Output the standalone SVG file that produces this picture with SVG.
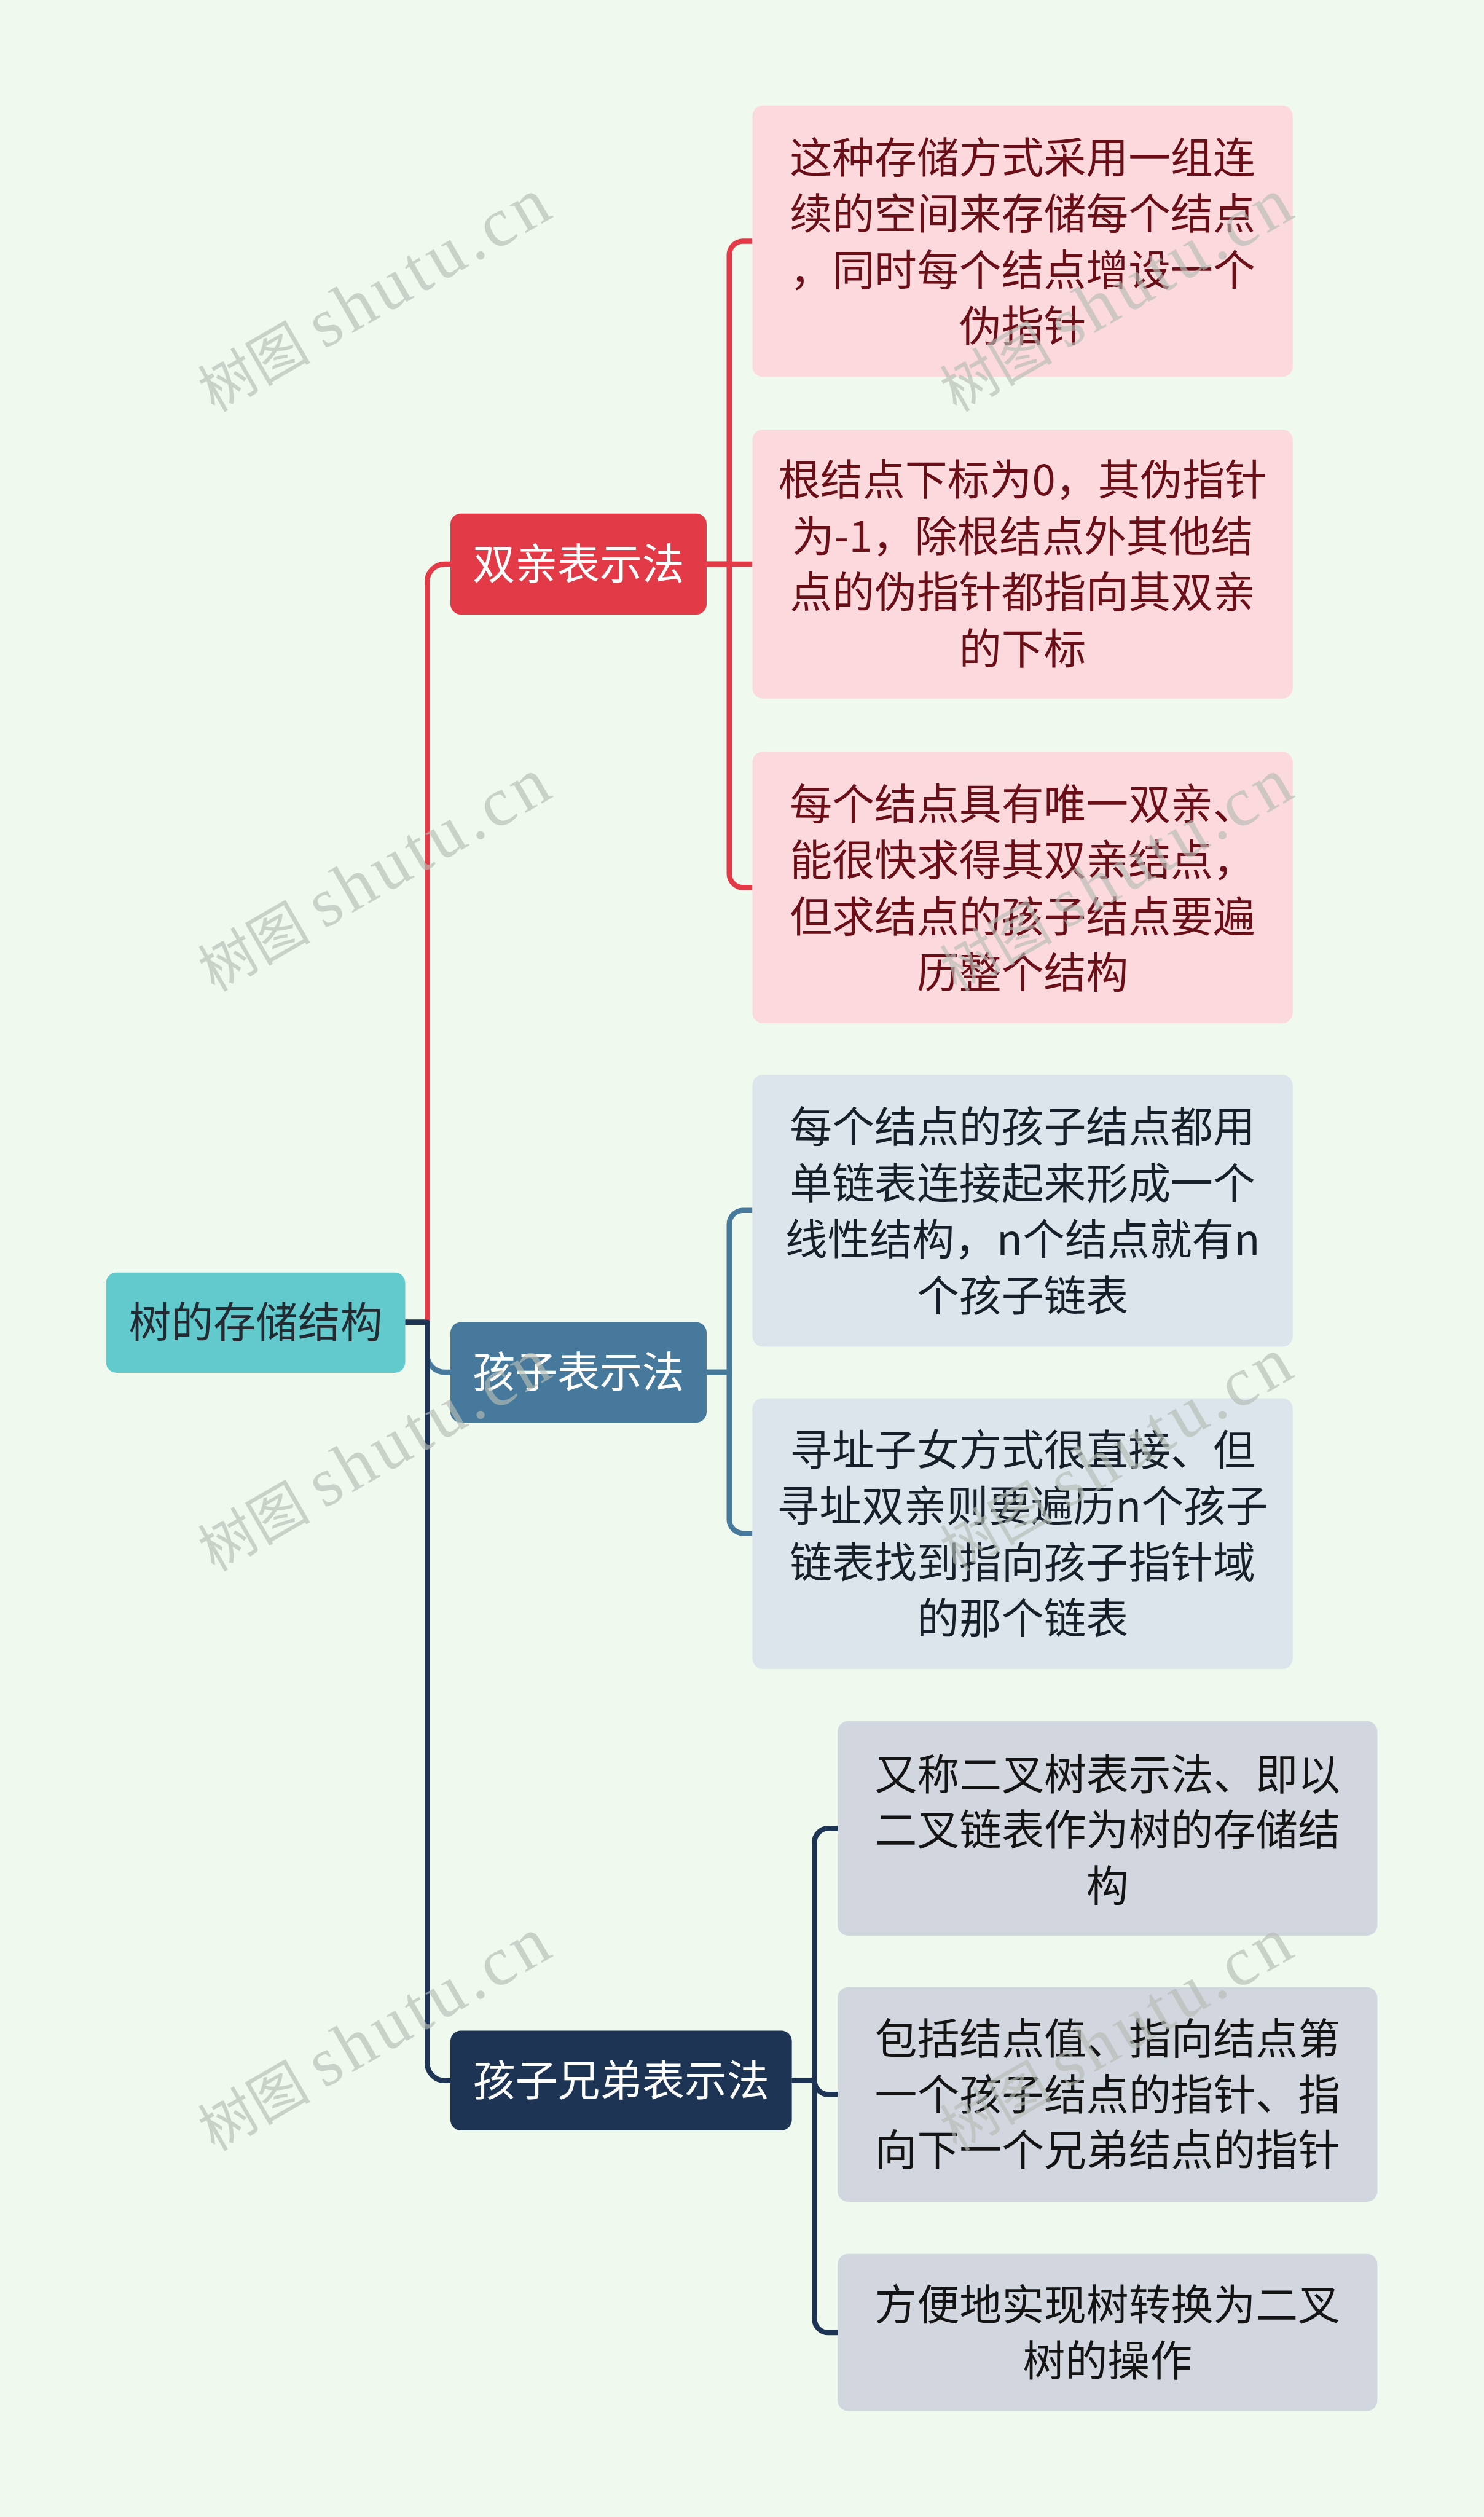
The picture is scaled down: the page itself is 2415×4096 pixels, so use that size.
<svg xmlns="http://www.w3.org/2000/svg" width="2415" height="4096" viewBox="0 0 2415 4096">
<style>
.t{font-family:'Noto Sans CJK SC','Noto Sans',sans-serif;font-size:73px;text-anchor:middle;dominant-baseline:central}
.w{fill:#ffffff}
.rt{fill:#232a31}
.pk{fill:#FBD9DD}
.pt{fill:#6A0E18}
.bl{fill:#DCE5EC}
.bt{fill:#17202A}
.gr{fill:#D2D7DF}
.gt{fill:#141414}
.c{fill:none;stroke-width:9;stroke-linecap:butt;stroke-linejoin:round}
.cr{stroke:#E23A47}
.cb{stroke:#46799B}
.cn{stroke:#1E3455}
.wm{fill:#B4BCB4;fill-opacity:0.66}
.wc{font-family:'Noto Sans CJK SC',sans-serif;font-size:97px}
.wl{font-family:'Liberation Serif',serif;font-size:120px;letter-spacing:8px}
</style>
<rect x="0" y="0" width="2415" height="4096" fill="#EFF9EE"/>
<g transform="scale(0.94336)">
<g id="connectors">
<path class="c cr" d="M699,2281 H737 V1003 A30,30 0 0 1 767,973 H777"/>
<path class="c cb" d="M699,2281 H737 V2337 A30,30 0 0 0 767,2367 H777"/>
<path class="c cn" d="M699,2281 H737 V3559 A30,30 0 0 0 767,3589 H777"/>
<path class="c cr" d="M1219,973 H1258 V440 A24,24 0 0 1 1282,416 H1298"/>
<path class="c cr" d="M1219,973 H1298"/>
<path class="c cr" d="M1219,973 H1258 V1507 A24,24 0 0 0 1282,1531 H1298"/>
<path class="c cb" d="M1219,2367 H1258 V2112 A24,24 0 0 1 1282,2088 H1298"/>
<path class="c cb" d="M1219,2367 H1258 V2621 A24,24 0 0 0 1282,2645 H1298"/>
<path class="c cn" d="M1366,3589 H1405 V3178 A24,24 0 0 1 1429,3154 H1445"/>
<path class="c cn" d="M1366,3589 H1405 A24,24 0 0 0 1429,3613 H1445"/>
<path class="c cn" d="M1366,3589 H1405 V4000 A24,24 0 0 0 1429,4024 H1445"/>
</g>
<g id="root">
<rect x="183" y="2195" width="516" height="173" rx="18" fill="#62CACC"/>
<text class="t rt" x="441" y="2276">树的存储结构</text>
</g>
<g id="b1">
<rect x="777" y="886" width="442" height="174" rx="18" fill="#E23A47"/>
<text class="t w" x="998" y="968">双亲表示法</text>
</g>
<g id="b2">
<rect x="777" y="2281" width="442" height="173" rx="18" fill="#46799B"/>
<text class="t w" x="998" y="2362">孩子表示法</text>
</g>
<g id="b3">
<rect x="777" y="3503" width="589" height="172" rx="18" fill="#1E3455"/>
<text class="t w" x="1071.5" y="3584">孩子兄弟表示法</text>
</g>
<g id="l1">
<rect class="pk" x="1298" y="182" width="932" height="468" rx="18"/>
<text class="t pt" x="1764"><tspan x="1764" y="267">这种存储方式采用一组连</tspan><tspan x="1764" y="364">续的空间来存储每个结点</tspan><tspan x="1764" y="461">，同时每个结点增设一个</tspan><tspan x="1764" y="558">伪指针</tspan></text>
</g>
<g id="l2">
<rect class="pk" x="1298" y="741" width="932" height="464" rx="18"/>
<text class="t pt" x="1764"><tspan x="1764" y="823">根结点下标为0，其伪指针</tspan><tspan x="1764" y="920">为-1，除根结点外其他结</tspan><tspan x="1764" y="1017">点的伪指针都指向其双亲</tspan><tspan x="1764" y="1114">的下标</tspan></text>
</g>
<g id="l3">
<rect class="pk" x="1298" y="1297" width="932" height="468" rx="18"/>
<text class="t pt" x="1764"><tspan x="1764" y="1382">每个结点具有唯一双亲、</tspan><tspan x="1764" y="1479">能很快求得其双亲结点，</tspan><tspan x="1764" y="1576">但求结点的孩子结点要遍</tspan><tspan x="1764" y="1673">历整个结构</tspan></text>
</g>
<g id="l4">
<rect class="bl" x="1298" y="1854" width="932" height="469" rx="18"/>
<text class="t bt" x="1764"><tspan x="1764" y="1939">每个结点的孩子结点都用</tspan><tspan x="1764" y="2036">单链表连接起来形成一个</tspan><tspan x="1764" y="2133">线性结构，n个结点就有n</tspan><tspan x="1764" y="2230">个孩子链表</tspan></text>
</g>
<g id="l5">
<rect class="bl" x="1298" y="2412" width="932" height="467" rx="18"/>
<text class="t bt" x="1764"><tspan x="1764" y="2496">寻址子女方式很直接、但</tspan><tspan x="1764" y="2593">寻址双亲则要遍历n个孩子</tspan><tspan x="1764" y="2690">链表找到指向孩子指针域</tspan><tspan x="1764" y="2787">的那个链表</tspan></text>
</g>
<g id="l6">
<rect class="gr" x="1445" y="2969" width="931" height="370" rx="18"/>
<text class="t gt" x="1910.5"><tspan x="1910.5" y="3056">又称二叉树表示法、即以</tspan><tspan x="1910.5" y="3152">二叉链表作为树的存储结</tspan><tspan x="1910.5" y="3248">构</tspan></text>
</g>
<g id="l7">
<rect class="gr" x="1445" y="3428" width="931" height="370" rx="18"/>
<text class="t gt" x="1910.5"><tspan x="1910.5" y="3512">包括结点值、指向结点第</tspan><tspan x="1910.5" y="3608">一个孩子结点的指针、指</tspan><tspan x="1910.5" y="3704">向下一个兄弟结点的指针</tspan></text>
</g>
<g id="l8">
<rect class="gr" x="1445" y="3888" width="931" height="271" rx="18"/>
<text class="t gt" x="1910.5"><tspan x="1910.5" y="3971">方便地实现树转换为二叉</tspan><tspan x="1910.5" y="4067">树的操作</tspan></text>
</g>
<g id="watermarks" class="wm">
<text transform="translate(370,712) rotate(-30)"><tspan class="wc">树图</tspan><tspan class="wl" dx="24">shutu.cn</tspan></text>
<text transform="translate(1650,712) rotate(-30)"><tspan class="wc">树图</tspan><tspan class="wl" dx="24">shutu.cn</tspan></text>
<text transform="translate(370,1712) rotate(-30)"><tspan class="wc">树图</tspan><tspan class="wl" dx="24">shutu.cn</tspan></text>
<text transform="translate(1650,1712) rotate(-30)"><tspan class="wc">树图</tspan><tspan class="wl" dx="24">shutu.cn</tspan></text>
<text transform="translate(370,2712) rotate(-30)"><tspan class="wc">树图</tspan><tspan class="wl" dx="24">shutu.cn</tspan></text>
<text transform="translate(1650,2712) rotate(-30)"><tspan class="wc">树图</tspan><tspan class="wl" dx="24">shutu.cn</tspan></text>
<text transform="translate(370,3712) rotate(-30)"><tspan class="wc">树图</tspan><tspan class="wl" dx="24">shutu.cn</tspan></text>
<text transform="translate(1650,3712) rotate(-30)"><tspan class="wc">树图</tspan><tspan class="wl" dx="24">shutu.cn</tspan></text>
</g>
</g>
</svg>
